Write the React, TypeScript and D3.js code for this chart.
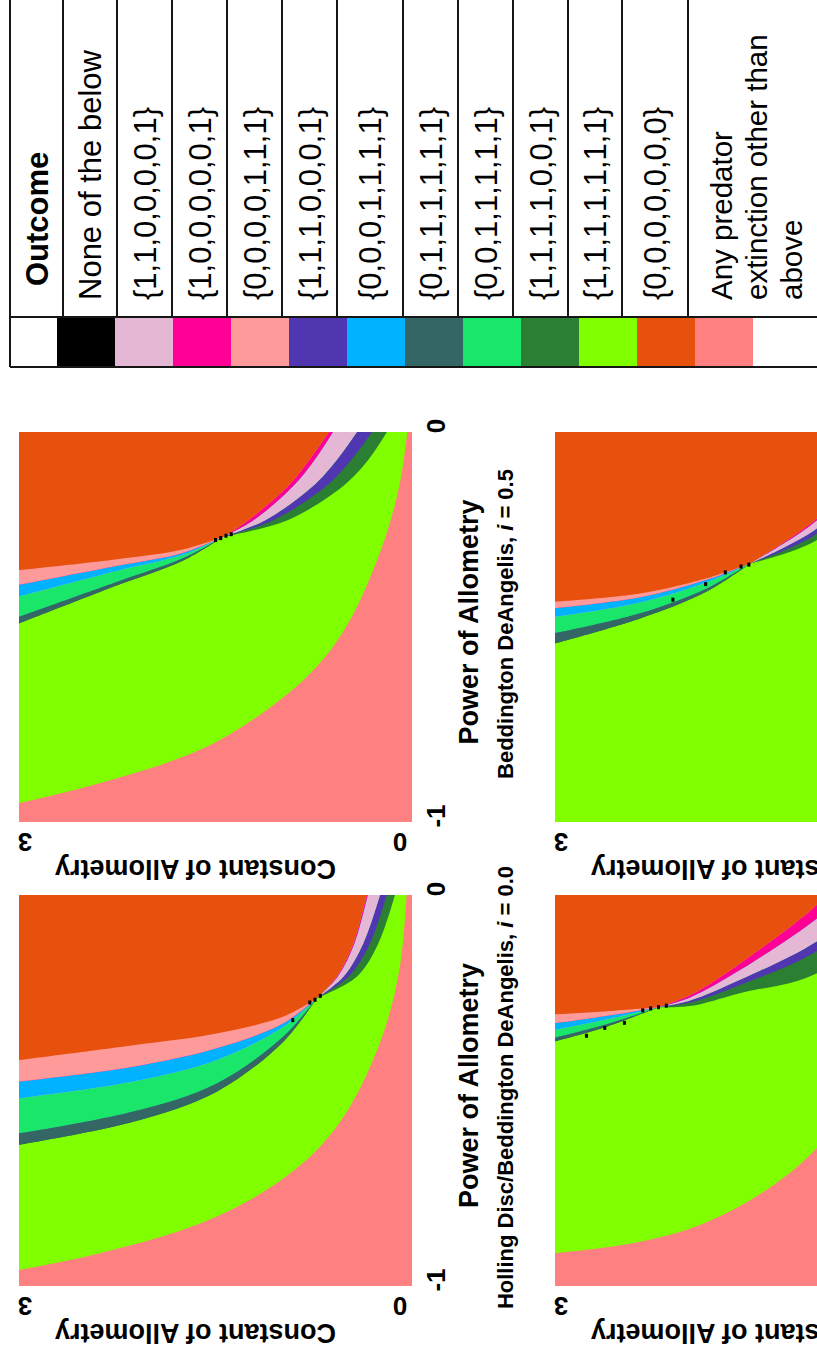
import React from 'react';
import * as d3 from 'd3';

// A point on an outcome boundary: [constant of allometry, power of allometry]
type Pt = [number, number];

// ---------- Outcome legend ----------
const outcomeHeader = 'Outcome';
const outcomeLabels: string[][] = [
  ['None of the below'],
  ['{1,1,0,0,0,0,1}'],
  ['{1,0,0,0,0,0,1}'],
  ['{0,0,0,0,1,1,1}'],
  ['{1,1,1,0,0,0,1}'],
  ['{0,0,0,1,1,1,1}'],
  ['{0,1,1,1,1,1,1}'],
  ['{0,0,1,1,1,1,1}'],
  ['{1,1,1,1,0,0,1}'],
  ['{1,1,1,1,1,1,1}'],
  ['{0,0,0,0,0,0,0}'],
  ['Any predator', 'extinction other than', 'above'],
];
const outcomeColors = [
  '#000000', '#E4B8D5', '#FF0096', '#FF9A9A', '#5036B0', '#00B2FF',
  '#346666', '#1AE66A', '#2A7F33', '#80FF00', '#E8500E', '#FF8080',
];

// outcome index of the bands, listed from the coexistence side outwards
const topBandOutcomes = [8, 4, 1, 2, 10];   // dark green, purple, thistle, hot pink, all extinct
const leftBandOutcomes = [6, 7, 5, 3];      // slate, spring green, blue, light salmon
const coexistOutcome = 9;
const extinctOtherOutcome = 11;
const noneOutcome = 0;

// ---------- Axes ----------
const powerDomain: [number, number] = [-1, 0];
const constantDomain: [number, number] = [0, 3];
const powerTicks = [-1, 0];
const constantTicks = [3, 0];
const powerTitle = 'Power of Allometry';
const constantTitle = 'Constant of Allometry';

// ---------- Holling Disc/Beddington DeAngelis, i = 0.0 ----------
// boundaries ending at the triple point, listed from the all-extinct side inwards
const hollingLeft: Pt[][] = [
  [[3, -0.422], [2.128, -0.384], [1.491, -0.354], [0.982, -0.311], [0.728, -0.264]],
  [[3, -0.477], [2.128, -0.439], [1.491, -0.392], [0.982, -0.328], [0.728, -0.264]],
  [[3, -0.52], [2.128, -0.477], [1.491, -0.422], [0.982, -0.337], [0.728, -0.264]],
  [[3, -0.61], [2.128, -0.554], [1.491, -0.482], [0.982, -0.362], [0.728, -0.264]],
  [[3, -0.639], [2.128, -0.58], [1.491, -0.503], [0.982, -0.375], [0.728, -0.264]],
];
const hollingTop: Pt[][] = [
  [[0.728, -0.264], [0.575, -0.209], [0.448, -0.124], [0.346, 0]],
  [[0.728, -0.264], [0.568, -0.209], [0.44, -0.124], [0.338, 0]],
  [[0.728, -0.264], [0.524, -0.209], [0.372, -0.124], [0.244, 0]],
  [[0.728, -0.264], [0.486, -0.209], [0.321, -0.124], [0.193, 0]],
  [[0.728, -0.264], [0.422, -0.209], [0.257, -0.124], [0.13, 0]],
];
const hollingGreen: Pt[] = [
  [3, -0.959], [2.382, -0.916], [1.618, -0.84], [1.109, -0.754], [0.727, -0.652],
  [0.473, -0.541], [0.219, -0.354], [0.092, -0.183], [0.041, 0],
];
const hollingNone: Pt[] = [[0.74, -0.268], [0.7, -0.258], [0.78, -0.275], [0.91, -0.32]];

// ---------- Beddington DeAngelis, i = 0.5 ----------
const bd05Left: Pt[][] = [
  [[3, -0.354], [2.25, -0.326], [1.75, -0.301], [1.443, -0.269]],
  [[3, -0.392], [2.25, -0.343], [1.75, -0.31], [1.443, -0.269]],
  [[3, -0.422], [2.25, -0.356], [1.75, -0.315], [1.443, -0.269]],
  [[3, -0.474], [2.25, -0.384], [1.75, -0.324], [1.443, -0.269]],
  [[3, -0.491], [2.25, -0.393], [1.75, -0.33], [1.443, -0.269]],
];
const bd05Top: Pt[][] = [
  [[1.443, -0.269], [1.25, -0.226], [0.95, -0.14], [0.78, -0.07], [0.634, 0]],
  [[1.443, -0.269], [1.21, -0.226], [0.91, -0.14], [0.74, -0.07], [0.603, 0]],
  [[1.443, -0.269], [1.12, -0.226], [0.76, -0.14], [0.57, -0.07], [0.42, 0]],
  [[1.443, -0.269], [1.06, -0.226], [0.66, -0.14], [0.46, -0.07], [0.305, 0]],
  [[1.443, -0.269], [0.95, -0.226], [0.53, -0.14], [0.33, -0.07], [0.191, 0]],
];
const bd05Green: Pt[] = [
  [3, -0.952], [2.38, -0.9], [1.618, -0.815], [1.11, -0.713], [0.728, -0.602],
  [0.473, -0.482], [0.219, -0.285], [0.092, -0.131], [0.036, 0],
];
const bd05None: Pt[] = [[1.46, -0.272], [1.42, -0.266], [1.38, -0.262], [1.5, -0.277]];

// ---------- second row, left ----------
const lowerALeft: Pt[][] = [
  [[3, -0.305], [2.6, -0.297], [2.211, -0.287]],
  [[3, -0.328], [2.6, -0.309], [2.211, -0.287]],
  [[3, -0.345], [2.6, -0.318], [2.211, -0.287]],
  [[3, -0.365], [2.6, -0.33], [2.211, -0.287]],
  [[3, -0.374], [2.6, -0.336], [2.211, -0.287]],
];
const lowerATop: Pt[][] = [
  [[2.211, -0.287], [1.969, -0.256], [1.588, -0.175], [1.0, -0.024], [0.95, 0]],
  [[2.211, -0.287], [1.969, -0.262], [1.588, -0.192], [1.0, -0.06], [0.8, 0]],
  [[2.211, -0.287], [1.969, -0.27], [1.588, -0.217], [1.0, -0.118], [0.55, 0]],
  [[2.211, -0.287], [1.969, -0.275], [1.588, -0.23], [1.0, -0.143], [0.45, 0]],
  [[2.211, -0.287], [1.969, -0.284], [1.588, -0.251], [1.0, -0.2], [0.25, 0]],
];
const lowerAGreen: Pt[] = [
  [3, -0.916], [2.4, -0.89], [1.893, -0.844], [1.384, -0.754], [1.0, -0.647],
  [0.6, -0.48], [0.3, -0.28], [0.12, -0.12], [0.04, 0],
];
const lowerANone: Pt[] = [
  [2.15, -0.283], [2.21, -0.287], [2.27, -0.29], [2.33, -0.295],
  [2.47, -0.327], [2.62, -0.34], [2.76, -0.36],
];

// ---------- second row, right ----------
const lowerBLeft: Pt[][] = [
  [[3, -0.435], [2.351, -0.414], [1.842, -0.375], [1.511, -0.337]],
  [[3, -0.452], [2.351, -0.424], [1.842, -0.379], [1.511, -0.337]],
  [[3, -0.474], [2.351, -0.437], [1.842, -0.385], [1.511, -0.337]],
  [[3, -0.516], [2.351, -0.465], [1.842, -0.401], [1.511, -0.337]],
  [[3, -0.542], [2.351, -0.478], [1.842, -0.409], [1.511, -0.337]],
];
const lowerBTop: Pt[][] = [
  [[1.511, -0.337], [1.0, -0.221], [0.72, -0.11], [0.55, 0]],
  [[1.511, -0.337], [1.0, -0.226], [0.7, -0.11], [0.52, 0]],
  [[1.511, -0.337], [1.0, -0.247], [0.62, -0.11], [0.42, 0]],
  [[1.511, -0.337], [1.0, -0.26], [0.57, -0.11], [0.34, 0]],
  [[1.511, -0.337], [1.0, -0.277], [0.48, -0.11], [0.24, 0]],
];
const lowerBGreen: Pt[] = [[0.75, -1], [0.45, -0.75], [0.25, -0.5], [0.1, -0.25], [0.03, 0]];
const lowerBNone: Pt[] = [[1.52, -0.34], [1.58, -0.345], [1.7, -0.36], [1.85, -0.39], [2.1, -0.43]];

type PanelSpec = {
  id: string;
  col: number;
  row: number;
  left: Pt[][];
  top: Pt[][];
  green: Pt[];
  none: Pt[];
  subtitle: [string, string, string] | null;
};

const panels: PanelSpec[] = [
  { id: 'holling', col: 0, row: 0, left: hollingLeft, top: hollingTop, green: hollingGreen, none: hollingNone,
    subtitle: ['Holling Disc/Beddington DeAngelis, ', 'i', ' = 0.0'] },
  { id: 'bd05', col: 1, row: 0, left: bd05Left, top: bd05Top, green: bd05Green, none: bd05None,
    subtitle: ['Beddington DeAngelis, ', 'i', ' = 0.5'] },
  { id: 'lowerA', col: 0, row: 1, left: lowerALeft, top: lowerATop, green: lowerAGreen, none: lowerANone, subtitle: null },
  { id: 'lowerB', col: 1, row: 1, left: lowerBLeft, top: lowerBTop, green: lowerBGreen, none: lowerBNone, subtitle: null },
];

// ---------- layout (figure drawn landscape, then turned a quarter turn) ----------
const FIG_W = 1359;
const colX: [number, number][] = [[73, 464], [537, 927]];
const rowY: [number, number][] = [[19, 412], [555, 948]];
const FONT = "'Liberation Sans', Arial, Helvetica, sans-serif";

function Panel({ spec }: { spec: PanelSpec }) {
  const [x0, x1] = colX[spec.col];
  const [y0, y1] = rowY[spec.row];
  const xs = d3.scaleLinear().domain(powerDomain).range([x0, x1]);
  const ys = d3.scaleLinear().domain(constantDomain).range([y1, y0]);
  const line = d3
    .line<Pt>()
    .x((d) => xs(d[1]))
    .y((d) => ys(d[0]))
    .curve(d3.curveCatmullRom.alpha(0.5));

  // region lying towards high constant / high power of a boundary
  const region = (parts: Pt[][]) =>
    parts
      .map((pts, i) => {
        const s = line(pts) as string;
        return i === 0 ? s : 'L' + s.slice(1);
      })
      .join('') +
    `L${xs(powerDomain[1])},${ys(constantDomain[1])}L${xs(powerDomain[0])},${ys(constantDomain[1])}Z`;

  const L = [...spec.left].reverse();
  const T = [...spec.top].reverse();
  const layers: { d: string; fill: string }[] = [];
  layers.push({ d: region([spec.green]), fill: outcomeColors[coexistOutcome] });
  for (let i = 0; i < T.length; i++) {
    layers.push({ d: region([L[i], T[i]]), fill: outcomeColors[topBandOutcomes[i]] });
    if (i < leftBandOutcomes.length) {
      layers.push({ d: region([L[i], T[i + 1]]), fill: outcomeColors[leftBandOutcomes[i]] });
    }
  }
  const clipId = `clip-${spec.id}`;
  const tickNudge = (t: number) => (t === constantDomain[1] ? 6 : -12);

  return (
    <g>
      <defs>
        <clipPath id={clipId}>
          <rect x={x0} y={y0} width={x1 - x0} height={y1 - y0} />
        </clipPath>
      </defs>
      <g clipPath={`url(#${clipId})`}>
        <rect x={x0} y={y0} width={x1 - x0} height={y1 - y0} fill={outcomeColors[extinctOtherOutcome]} />
        {layers.map((l, i) => (
          <path key={i} d={l.d} fill={l.fill} />
        ))}
        {spec.none.map((d, i) => (
          <rect key={i} x={xs(d[1]) - 2} y={ys(d[0]) - 1.5} width={4} height={3} fill={outcomeColors[noneOutcome]} />
        ))}
      </g>

      {/* constant of allometry axis */}
      {constantTicks.map((t) => (
        <text key={t} transform={`translate(${x0 - 11},${ys(t) + tickNudge(t)}) rotate(-90)`}
          textAnchor="middle" fontWeight="bold" fontSize={26}>{t}</text>
      ))}
      <text transform={`translate(${x0 - 38},${(y0 + y1) / 2 - 20}) rotate(-90)`}
        textAnchor="middle" fontWeight="bold" fontSize={27}>{constantTitle}</text>

      {/* power of allometry axis */}
      {spec.subtitle && (
        <g>
          {powerTicks.map((t) => (
            <text key={t} x={xs(t) + 6} y={y1 + 33} textAnchor="middle" fontWeight="bold" fontSize={26}>{String(t)}</text>
          ))}
          <text x={(x0 + x1) / 2 + 5} y={y1 + 66} textAnchor="middle" fontWeight="bold" fontSize={27}>{powerTitle}</text>
          <text x={(x0 + x1) / 2 + 3} y={y1 + 101} textAnchor="middle" fontWeight="bold" fontSize={22}>
            {spec.subtitle[0]}
            <tspan fontStyle="italic">{spec.subtitle[1]}</tspan>
            {spec.subtitle[2]}
          </text>
        </g>
      )}
    </g>
  );
}

// table rows of the legend (header + one per outcome)
const legendRowEdges = [10, 63, 117, 172, 227, 282, 337, 403, 458, 513, 568, 622, 688, 817];
const swatchStart = 57;
const swatchSize = 58;
const swatchX0 = 992;
const swatchX1 = 1042;
const textStartX = 1059;

function Legend() {
  const stroke = '#161616';
  const rows = legendRowEdges.slice(0, -1).map((e, i) => [e, legendRowEdges[i + 1]]);
  return (
    <g>
      <rect x={swatchX0} y={legendRowEdges[0]} width={FIG_W - swatchX0} height={817 - legendRowEdges[0]} fill="#fff" />
      {outcomeColors.map((c, i) => (
        <rect key={i} x={swatchX0} y={swatchStart + i * swatchSize} width={swatchX1 - swatchX0} height={swatchSize} fill={c} />
      ))}
      {/* header */}
      <text x={textStartX + 14} y={(rows[0][0] + rows[0][1]) / 2 + 11} fontWeight="bold" fontSize={31}>{outcomeHeader}</text>
      {outcomeLabels.map((lines, i) => {
        const [a, b] = rows[i + 1];
        if (lines.length === 1) {
          return (
            <text key={i} x={textStartX} y={(a + b) / 2 + 11} fontSize={31}>{lines[0]}</text>
          );
        }
        return (
          <text key={i} fontSize={29.5}>
            {lines.map((s, j) => (
              <tspan key={j} x={textStartX} y={a + 44 + j * 35}>{s}</tspan>
            ))}
          </text>
        );
      })}
      {/* grid */}
      {legendRowEdges.slice(1, -1).map((e) => (
        <line key={e} x1={swatchX1} x2={FIG_W} y1={e} y2={e} stroke={stroke} strokeWidth={2} />
      ))}
      <line x1={swatchX1} x2={swatchX1} y1={legendRowEdges[0]} y2={817} stroke={stroke} strokeWidth={2} />
      <line x1={swatchX0} x2={swatchX0} y1={legendRowEdges[0]} y2={817} stroke={stroke} strokeWidth={2} />
      <line x1={swatchX0} x2={FIG_W} y1={legendRowEdges[0]} y2={legendRowEdges[0]} stroke={stroke} strokeWidth={2} />
    </g>
  );
}

export default function App() {
  return (
    <svg width={817} height={1359} style={{ position: 'absolute', left: 0, top: 0, background: '#fff' }}>
      <rect width={817} height={1359} fill="#fff" />
      <g transform={`translate(0,${FIG_W}) rotate(-90)`} fontFamily={FONT} fill="#000">
        {panels.map((p) => (
          <Panel key={p.id} spec={p} />
        ))}
        <Legend />
      </g>
    </svg>
  );
}
